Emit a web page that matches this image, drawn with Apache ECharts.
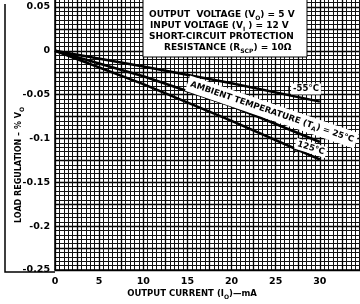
<!DOCTYPE html>
<html>
<head>
<meta charset="utf-8">
<script src="https://cdn.jsdelivr.net/npm/echarts@6/dist/echarts.min.js"></script>
<style>
  html, body { margin: 0; padding: 0; background: #fff; }
  #chart { width: 360px; height: 304px; }
</style>
</head>
<body>
<div id="chart"></div>
<script>
// output current (mA) read at these points
var currents = [0, 10, 20, 30];
// load regulation (% Vo) per ambient temperature
var minus55 = [0, -0.018, -0.037, -0.058];
var plus25 = [0, -0.029, -0.063, -0.104];
var plus125 = [0, -0.038, -0.080, -0.124];
var yTicks = [0.05, 0, -0.05, -0.1, -0.15, -0.2, -0.25];
var xTicks = [0, 5, 10, 15, 20, 25, 30];

var FONT = '"DejaVu Sans", sans-serif';
var SUB = { fontSize: 6, fontWeight: 'bold', fontFamily: FONT, padding: [6, 0, 0, 0] };

function pairs(ys) {
  return currents.map(function (x, i) { return [x, ys[i]]; });
}

function isTick(list, v) {
  return list.some(function (t) { return Math.abs(t - v) < 1e-9; });
}

var chart = echarts.init(document.getElementById('chart'));

var lineStyle = { color: '#000', width: 2.5 };

chart.setOption({
  animation: false,
  backgroundColor: '#fff',
  grid: { left: 55, right: -4, top: -15, bottom: 34, outerBoundsMode: 'none', containLabel: false },
  xAxis: {
    type: 'value',
    min: 0,
    max: 35,
    interval: 2.5,
    axisLine: { show: true, onZero: false, lineStyle: { color: '#000', width: 1.5 } },
    axisTick: { show: false },
    axisLabel: {
      margin: 7,
      color: '#000',
      fontFamily: FONT,
      fontWeight: 'bold',
      fontSize: 9.5,
      formatter: function (v) { return isTick(xTicks, v) ? String(v) : ''; }
    },
    splitLine: { show: true, lineStyle: { color: '#000', width: 1.3 } },
    minorTick: { show: false, splitNumber: 5 },
    minorSplitLine: { show: true, lineStyle: { color: '#111', width: 1 } }
  },
  yAxis: {
    type: 'value',
    min: -0.25,
    max: 0.075,
    interval: 0.025,
    axisLine: { show: true, onZero: false, lineStyle: { color: '#000', width: 1.5 } },
    axisTick: { show: false },
    axisLabel: {
      margin: 5,
      color: '#000',
      fontFamily: FONT,
      fontWeight: 'bold',
      fontSize: 9.5,
      formatter: function (v) {
        return isTick(yTicks, v) ? String(+v.toFixed(3)) : '';
      }
    },
    splitLine: { show: true, lineStyle: { color: '#000', width: 1.3 } },
    minorTick: { show: false, splitNumber: 5 },
    minorSplitLine: { show: true, lineStyle: { color: '#111', width: 1 } }
  },
  series: [
    { name: '-55°C', type: 'line', data: pairs(minus55), showSymbol: false, lineStyle: lineStyle, z: 3 },
    { name: '25°C', type: 'line', data: pairs(plus25), showSymbol: false, lineStyle: lineStyle, z: 3 },
    { name: '125°C', type: 'line', data: pairs(plus125), showSymbol: false, lineStyle: lineStyle, z: 3 }
  ],
  graphic: [
    // frame around y tick labels
    {
      type: 'polyline',
      shape: { points: [[5, 4], [5, 272], [55, 272]] },
      style: { stroke: '#000', lineWidth: 1.5, fill: null },
      z: 10
    },
    // conditions box
    {
      type: 'rect',
      shape: { x: 143, y: -2, width: 164, height: 59 },
      style: { fill: '#fff', stroke: '#000', lineWidth: 1 },
      z: 10
    },
    {
      type: 'text', x: 149, y: 15, z: 11,
      style: {
        text: 'OUTPUT  VOLTAGE (V{s|O}) = 5 V',
        font: 'bold 9px ' + FONT, fill: '#000', verticalAlign: 'middle', rich: { s: SUB }
      }
    },
    {
      type: 'text', x: 150, y: 26, z: 11,
      style: {
        text: 'INPUT VOLTAGE (V{s|I} ) = 12 V',
        font: 'bold 9px ' + FONT, fill: '#000', verticalAlign: 'middle', rich: { s: SUB }
      }
    },
    {
      type: 'text', x: 149, y: 37, z: 11,
      style: {
        text: 'SHORT-CIRCUIT PROTECTION',
        font: 'bold 9px ' + FONT, fill: '#000', verticalAlign: 'middle'
      }
    },
    {
      type: 'text', x: 164, y: 48, z: 11,
      style: {
        text: 'RESISTANCE (R{s|SCP}) = 10Ω',
        font: 'bold 9px ' + FONT, fill: '#000', verticalAlign: 'middle', rich: { s: SUB }
      }
    },
    // curve labels
    {
      type: 'line', z: 11,
      shape: { x1: 289, y1: 86, x2: 289, y2: 96 },
      style: { stroke: '#000', lineWidth: 1.2 }
    },
    {
      type: 'text', x: 306, y: 89, z: 11,
      style: {
        text: '-55°C', font: 'bold 8.5px ' + FONT, fill: '#000',
        align: 'center', verticalAlign: 'middle', backgroundColor: '#fff', padding: [1, 2]
      }
    },
    {
      type: 'text', x: 272, y: 112, z: 11, rotation: -0.33,
      style: {
        text: 'AMBIENT TEMPERATURE (T{s|A}) = 25°C', font: 'bold 8.5px ' + FONT, fill: '#000',
        align: 'center', verticalAlign: 'middle', backgroundColor: '#fff', padding: [2, 3],
        rich: { s: SUB }
      }
    },
    {
      type: 'line', z: 11,
      shape: { x1: 294, y1: 153, x2: 298, y2: 142 },
      style: { stroke: '#000', lineWidth: 1.2 }
    },
    {
      type: 'text', x: 311, y: 148, z: 11, rotation: -0.3,
      style: {
        text: '125°C', font: 'bold 8.5px ' + FONT, fill: '#000',
        align: 'center', verticalAlign: 'middle', backgroundColor: '#fff', padding: [1, 2]
      }
    },
    // axis titles
    {
      type: 'text', x: 192, y: 294, z: 11,
      style: {
        text: 'OUTPUT CURRENT (I{s|O})—mA', font: 'bold 8.5px ' + FONT, fill: '#000',
        align: 'center', verticalAlign: 'middle', rich: { s: SUB }
      }
    },
    {
      type: 'text', x: 19, y: 165, z: 11, rotation: Math.PI / 2,
      style: {
        text: 'LOAD REGULATION – % V{s|O}', font: 'bold 8px ' + FONT, fill: '#000',
        align: 'center', verticalAlign: 'middle', rich: { s: SUB }
      }
    }
  ]
});
</script>
</body>
</html>
